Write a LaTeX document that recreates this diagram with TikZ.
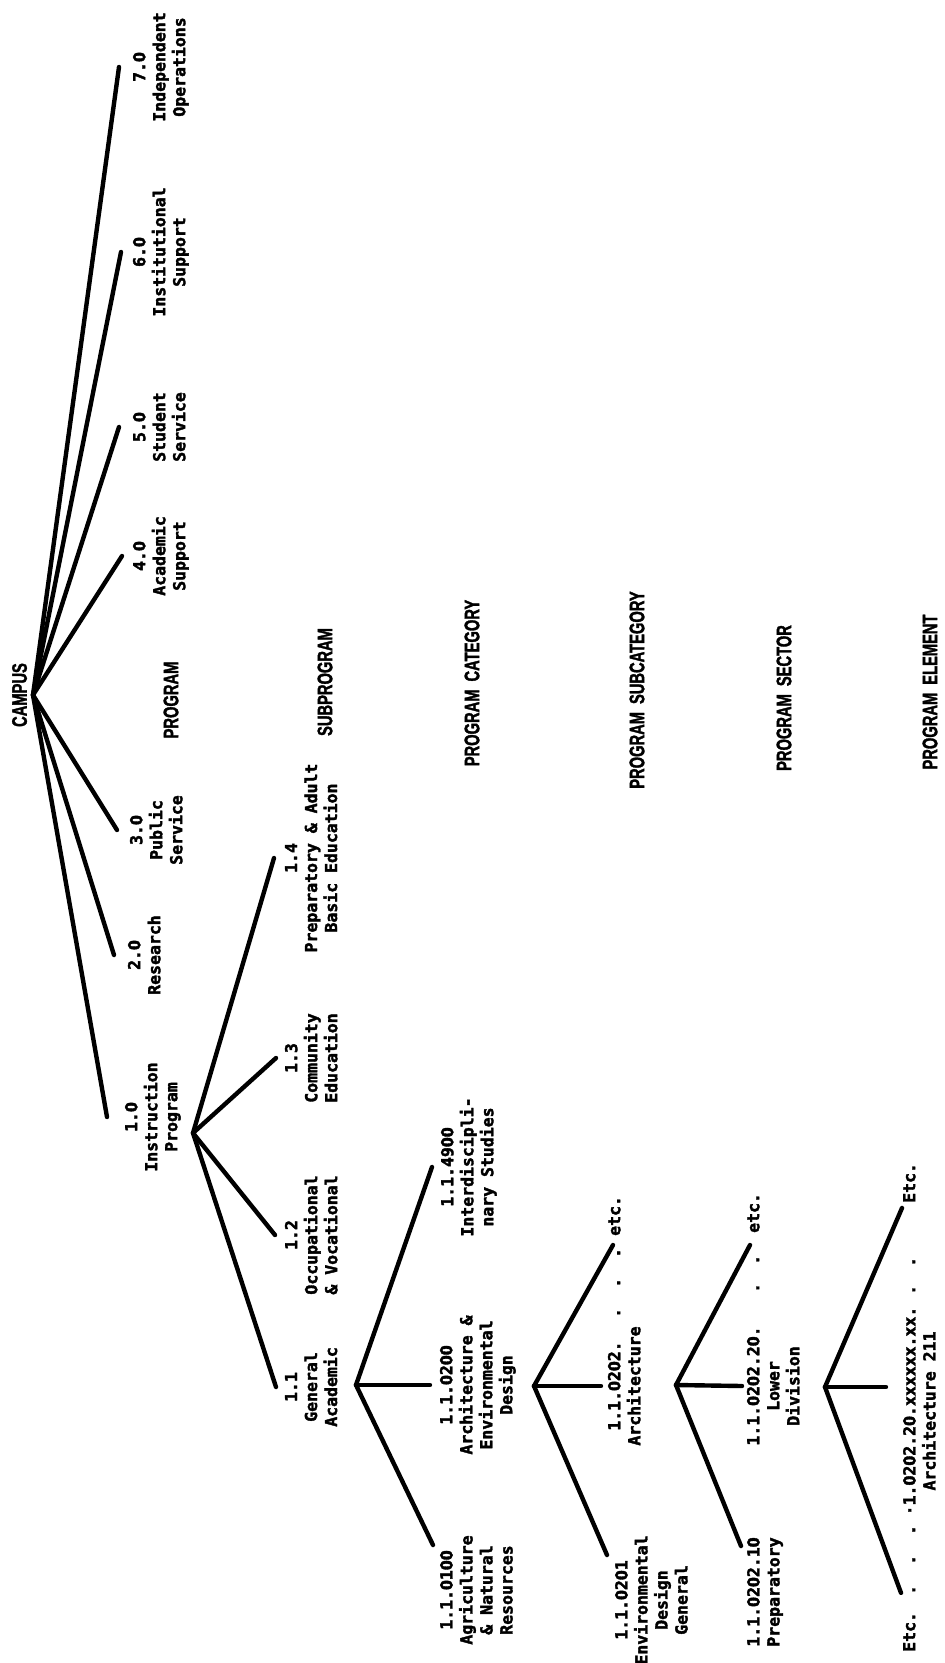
\documentclass[tikz,border=0pt]{standalone}
\usepackage{fontspec}
\setmonofont{DejaVu Sans Mono}[BoldFeatures={FakeBold=2.2}]
\newfontfamily\hdface{Liberation Sans}[FakeStretch=0.7,BoldFeatures={FakeBold=1.6}]
% plain (undotted) zero, narrowed to the monospaced pitch
\newfontfamily\zface{DejaVu Sans}[FakeStretch=0.865,BoldFeatures={FakeBold=2.2}]
\newcommand\Z{{\zface\bfseries 0}}
\usetikzlibrary{calc}
\tikzset{
  lbl/.style={rotate=90, align=center, inner sep=0pt,
    font=\ttfamily\bfseries\fontsize{16.5}{20}\selectfont},
  rowtext/.style={rotate=90, inner sep=0pt, text height=12pt, text depth=0pt,
    font=\ttfamily\bfseries\fontsize{16.5}{20}\selectfont},
  lvlhead/.style={rotate=90, inner sep=0pt,
    font=\hdface\bfseries\fontsize{21}{24}\selectfont},
  branch/.style={line width=4.4pt, line cap=round},
}
\begin{document}
\begin{tikzpicture}[x=1pt,y=-1pt]
\useasboundingbox (0,0) rectangle (945,1663);

% root
\node[lvlhead, anchor=south, outer sep=6pt] (campus) at (33,695) {CAMPUS};

% programs
\node[lbl, anchor=north, outer sep=14pt] (p7) at (119,67)   {7.\Z\\Independent\\Operations};
\node[lbl, anchor=north, outer sep=12pt] (p6) at (121,252)  {6.\Z\\Institutional\\Support};
\node[lbl, anchor=north, outer sep=14pt] (p5) at (119,427)  {5.\Z\\Student\\Service};
\node[lbl, anchor=north, outer sep=11pt] (p4) at (122,556)  {4.\Z\\Academic\\Support};
\node[lbl, anchor=north, outer sep=13pt] (p3) at (117,830)  {3.\Z\\Public\\Service};
\node[lbl, anchor=north, outer sep=14pt] (p2) at (114,955)  {2.\Z\\Research};
\node[lbl, anchor=north, outer sep=18pt] (p1) at (107,1117) {1.\Z\\Instruction\\Program};
\foreach \n in {p7,p6,p5,p4,p3,p2,p1}
  \draw[branch] (campus.south) -- (\n.north);

% subprograms
\coordinate (j1) at (193,1133);
\node[lbl, anchor=north, outer sep=11pt] (s4) at (274,858)  {1.4\\Preparatory \& Adult\\Basic Education};
\node[lbl, anchor=north, outer sep=9pt]  (s3) at (276,1058) {1.3\\Community\\Education};
\node[lbl, anchor=north, outer sep=10pt] (s2) at (275,1235) {1.2\\Occupational\\\& Vocational};
\node[lbl, anchor=north, outer sep=9pt]  (s1) at (276,1387) {1.1\\General\\Academic};
\foreach \n in {s4,s3,s2,s1}
  \draw[branch] (j1) -- (\n.north);

% program categories
\coordinate (j2) at (356,1385);
\node[lbl, anchor=north, outer sep=9pt]  (c49) at (432,1167) {1.1.49\Z\Z\\Interdiscipli-\\nary Studies};
\node[lbl, anchor=north, outer sep=10pt] (c02) at (430,1385) {1.1.\Z2\Z\Z\\Architecture \&\\Environmental\\Design};
\node[lbl, anchor=north] (c01) at (440,1590) {1.1.\Z1\Z\Z\\Agriculture\\\& Natural\\Resources};
\draw[branch] (j2) -- (c49.north);
\draw[branch] (j2) -- (c02.north);
\draw[branch] (j2) -- ($(c01.north)+(-7,-45)$);

% program subcategories
\coordinate (j3) at (534,1386);
\node[lbl, anchor=north, outer sep=7pt] (b02) at (601,1386) {1.1.\Z2\Z2.\\Architecture};
\node[rowtext, anchor=north west] (b02d) at (608,1318) {.\hspace{20pt}.\hspace{20pt}.};
\node[rowtext, anchor=north west] (b02e) at (608,1236) {etc.};
\node[lbl, anchor=north] (b01) at (615,1600) {1.1.\Z2\Z1\\Environmental\\Design\\General};
\draw[branch] (j3) -- ($(b02e.north west)+(5,9)$);
\draw[branch] (j3) -- (b02.north);
\draw[branch] (j3) -- ($(b01.north)+(-8,-45)$);

% program sectors
\coordinate (j4) at (676,1385);
\node[lbl, anchor=north, outer sep=5pt] (r20) at (742,1386) {1.1.\Z2\Z2.2\Z.\\Lower\\Division};
\node[rowtext, anchor=north west] (r20d) at (747,1293) {.\hspace{18pt}.};
\node[rowtext, anchor=north west] (r20e) at (747,1233) {etc.};
\node[lbl, anchor=north] (r10) at (747,1592) {1.1.\Z2\Z2.1\Z\\Preparatory};
\draw[branch] (j4) -- ($(r20e.north west)+(3,12)$);
\draw[branch] (j4) -- (r20.north);
\draw[branch] (j4) -- ($(r10.north)+(-6,-46)$);

% program elements
\coordinate (j5) at (825,1387);
\node[lbl, anchor=north] (m) at (903,1411) {·1.\Z2\Z2.2\Z.xxxxxx.xx.\\Architecture 211};
\node[rowtext, anchor=north west] (mlowe) at (903,1652) {Etc.};
\node[rowtext, anchor=north west] (mlowd) at (903,1595) {.\hspace{20pt}.\hspace{20pt}.};
\node[rowtext, anchor=north west] (mupd) at (903,1295) {.\hspace{18pt}.};
\node[rowtext, anchor=north west] (mupe) at (903,1203) {Etc.};
\draw[branch] (j5) -- ($(mupe.north west)+(-1,5)$);
\draw[branch] (j5) -- ($(m.north |- j5)+(-17,0)$);
\draw[branch] (j5) -- ($(mlowe.north east)+(-2,-19)$);

% level headings
\node[lvlhead] (hprog) at (171,700) {PROGRAM};
\node[lvlhead] (hsub)  at (325,682) {SUBPROGRAM};
\node[lvlhead] (hcat)  at (472,683) {PROGRAM\hspace{8pt}CATEGORY};
\node[lvlhead] (hscat) at (637,690) {PROGRAM\hspace{8pt}SUBCATEGORY};
\node[lvlhead] (hsec)  at (784,698) {PROGRAM\hspace{8pt}SECTOR};
\node[lvlhead] (helem) at (930,692) {PROGRAM\hspace{8pt}ELEMENT};
\end{tikzpicture}
\end{document}
